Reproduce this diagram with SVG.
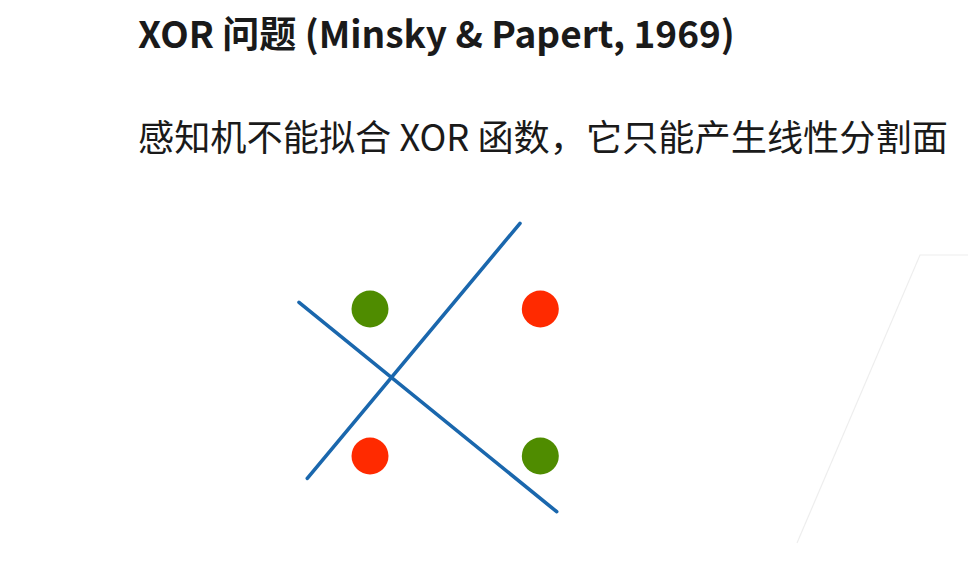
<svg xmlns="http://www.w3.org/2000/svg" width="977" height="563" viewBox="0 0 977 563">
<style>
.t{font-family:"Noto Sans CJK SC","Noto Sans",sans-serif;fill:#1a1a1a}
.sep{stroke:#1a67ad;stroke-width:3.6;stroke-linecap:round}
.g{fill:#4f8c00}
.r{fill:#ff2a00}
</style>
<rect width="977" height="563" fill="#fff"/>
<text class="t" x="138" y="48" font-size="37" font-weight="bold">XOR 问题 (Minsky &amp; Papert, 1969)</text>
<text class="t" x="138" y="151" font-size="36.2" fill="#222">感知机不能拟合 XOR 函数，它只能产生线性分割面</text>
<polyline points="797,543 920,255 968,255" fill="none" stroke="#eeeeee" stroke-width="1.2"/>
<g id="connectors">
<line class="sep" x1="307.3" y1="478.3" x2="520" y2="223.3"/>
<line class="sep" x1="299" y1="302.3" x2="556.7" y2="511.7"/>
</g>
<g id="p00"><circle class="g" cx="370" cy="309" r="18.5"/></g>
<g id="p10"><circle class="r" cx="540.3" cy="309" r="18.5"/></g>
<g id="p01"><circle class="r" cx="370" cy="456" r="18.5"/></g>
<g id="p11"><circle class="g" cx="540.3" cy="456" r="18.5"/></g>
</svg>
